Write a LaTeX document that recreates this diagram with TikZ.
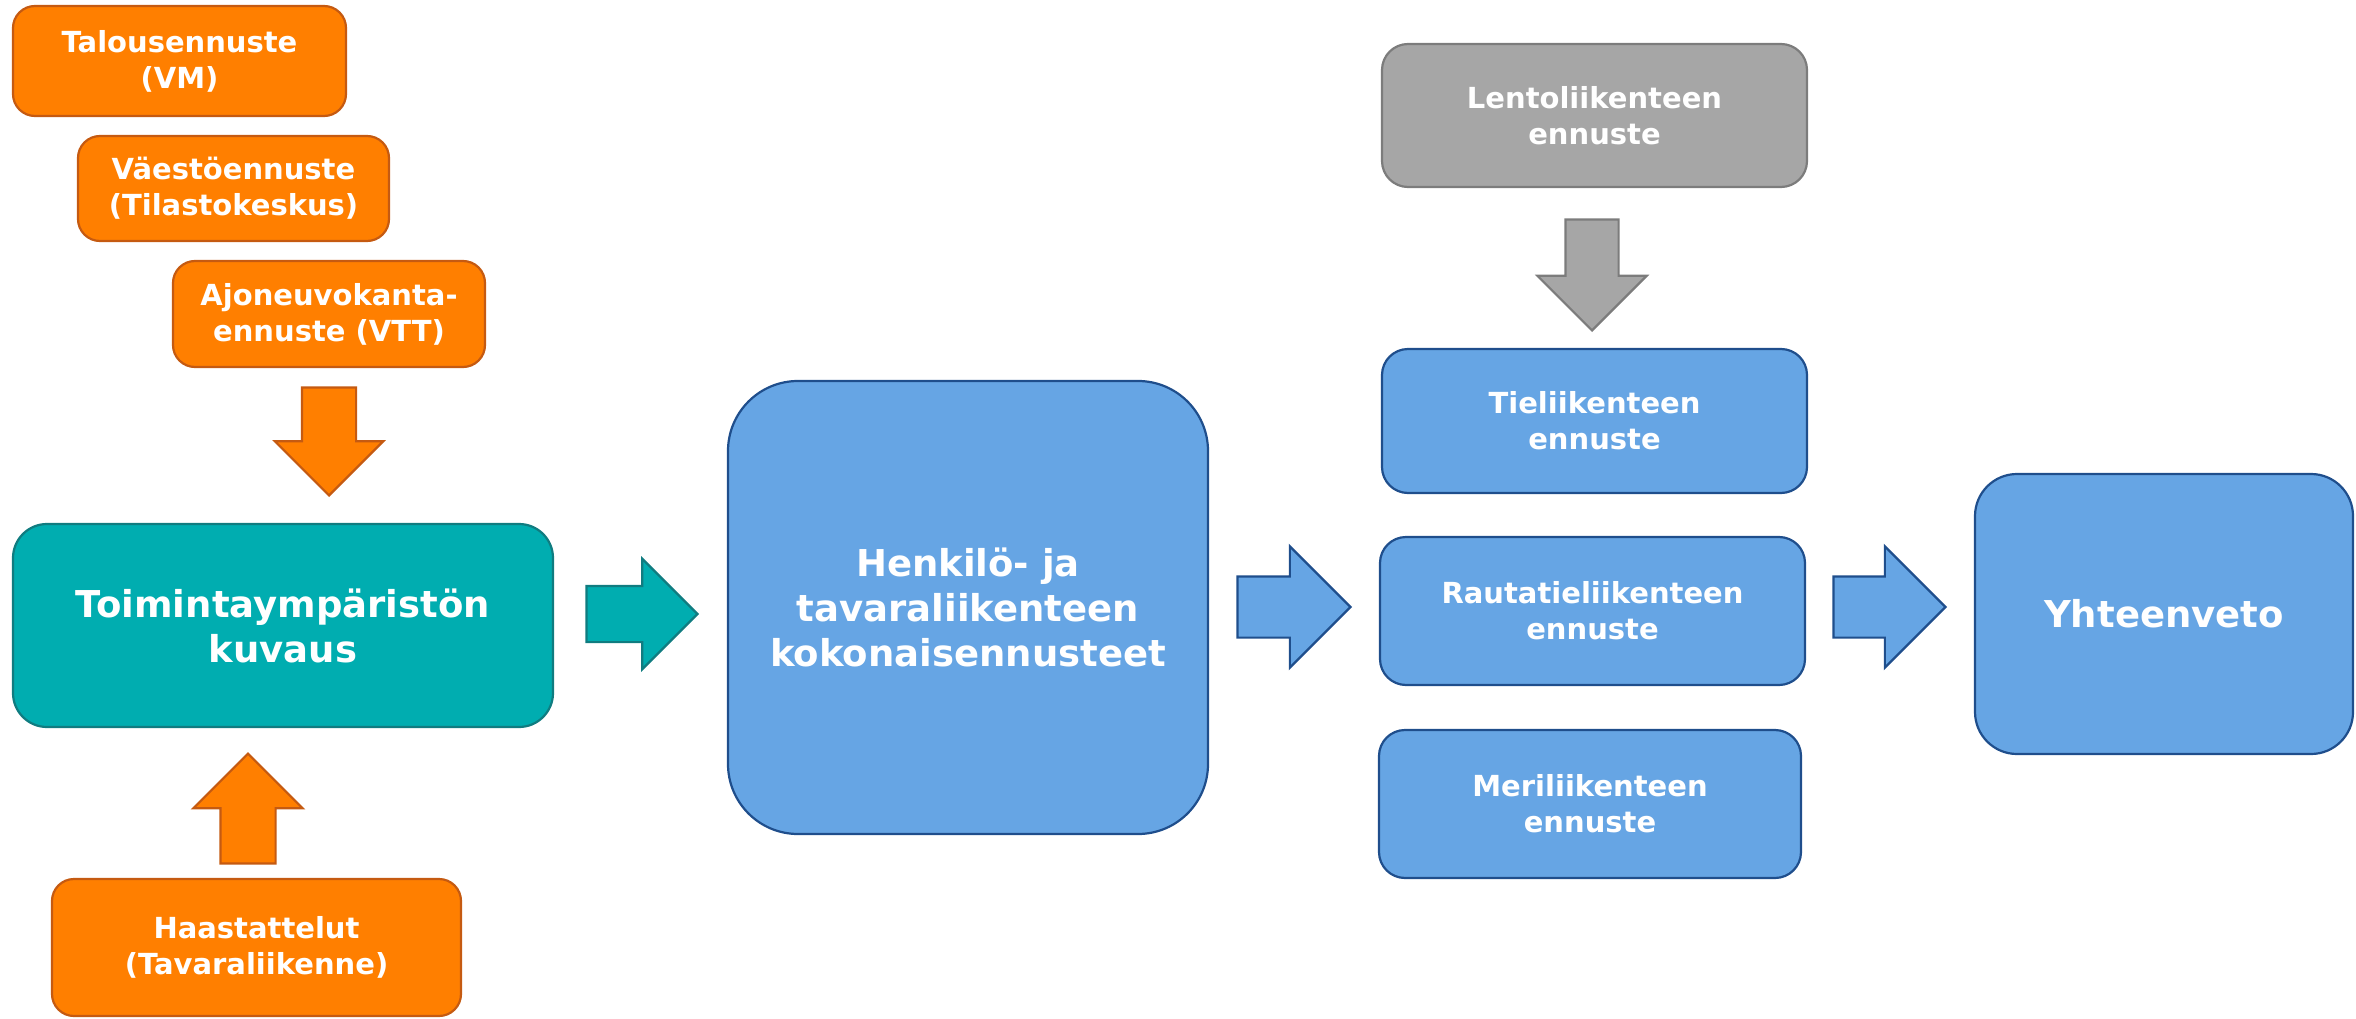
\documentclass[tikz,border=0pt]{standalone}
\usepackage{fontspec}
\setmainfont{DejaVu Sans}
\usetikzlibrary{shapes.arrows}

\definecolor{oranssi}{RGB}{255,127,0}
\definecolor{oranssiR}{RGB}{197,90,17}
\definecolor{turkoosi}{RGB}{0,173,176}
\definecolor{turkoosiR}{RGB}{16,124,128}
\definecolor{sininen}{RGB}{102,165,228}
\definecolor{sininenR}{RGB}{31,78,140}
\definecolor{harmaa}{RGB}{166,166,166}
\definecolor{harmaaR}{RGB}{124,124,124}

\begin{document}
\begin{tikzpicture}[
  x=1pt, y=-1pt,
  every node/.style={text=white, align=center, inner sep=0pt},
  small/.style={font=\fontsize{29}{36}\selectfont\bfseries},
  big/.style={font=\fontsize{37}{45}\selectfont\bfseries},
]
%-------------------------------------------------------------
% Custom colors
\newcommand{\colorisO}{oranssi}
\newcommand{\colorisT}{turkoosi}
\newcommand{\colorisB}{sininen}
\newcommand{\colorisG}{harmaa}

\tikzset{box/.style 2 args={rectangle, rounded corners=#2, line width=2.2pt, fill=#1, draw=#1R, small}}

\tikzset{boxO/.style={box={\colorisO}{22pt}}}
\tikzset{boxT/.style={box={\colorisT}{34pt}}}
\tikzset{boxB/.style={box={\colorisB}{26pt}}}
\tikzset{boxG/.style={box={\colorisG}{26pt}}}

% shaft = 2 x inner ysep, head = shaft + 2 x head extend
\tikzset{blockarrow/.style args={color #1}{single arrow, fill=#1, draw=#1R, line width=2.2pt,
  inner xsep=0pt, inner ysep=26pt, single arrow head extend=27pt,
  minimum height=110pt, anchor=tip}}
\tikzset{arrowO/.style={blockarrow= color \colorisO}}
\tikzset{arrowT/.style={blockarrow= color \colorisT}}
\tikzset{arrowB/.style={blockarrow= color \colorisB, minimum height=113pt, inner ysep=29.5pt, single arrow head extend=30pt}}
\tikzset{arrowG/.style={blockarrow= color \colorisG}}

\useasboundingbox (0,0) rectangle (2356,1019);

%-------------------------------------------------------------
% Input boxes
\node[boxO, minimum width=333pt, minimum height=110pt] (T1) at (179.5,61) {Talousennuste\\(VM)};
\node[boxO, minimum width=311pt, minimum height=105pt] (T2) at (233.5,188.5) {Väestöennuste\\(Tilastokeskus)};
\node[boxO, minimum width=312pt, minimum height=106pt] (T3) at (329,314) {Ajoneuvokanta-\\ennuste (VTT)};
\node[boxO, minimum width=409pt, minimum height=137pt] (H) at (256.5,947.5) {Haastattelut\\(Tavaraliikenne)};
%============================================================
\node[boxT, big, minimum width=540pt, minimum height=203pt] (K) at (283,625.5) {Toimintaympäristön\\kuvaus};
\node[box={\colorisB}{70pt}, big, minimum width=480pt, minimum height=453pt] (E) at (968,607.5) {Henkilö- ja\\tavaraliikenteen\\kokonaisennusteet};
%============================================================
\node[boxG, minimum width=425pt, minimum height=143pt] (L) at (1594.5,115.5) {Lentoliikenteen\\ennuste};
\node[boxB, minimum width=425pt, minimum height=144pt] (Ti) at (1594.5,421) {Tieliikenteen\\ennuste};
\node[boxB, minimum width=425pt, minimum height=148pt] (R) at (1592.5,611) {Rautatieliikenteen\\ennuste};
\node[boxB, minimum width=422pt, minimum height=148pt] (M) at (1590,804) {Meriliikenteen\\ennuste};
%============================================================
\node[box={\colorisB}{42pt}, big, minimum width=378pt, minimum height=280pt] (Y) at (2164,614) {Yhteenveto};

%---------------------------------------------------
% Block arrows
\node[arrowO, rotate=-90, minimum height=108pt] (A1) at (329,497) {};
\node[arrowO, rotate=90, inner ysep=26.5pt] (A2) at (248,752) {};
\node[arrowT, minimum height=111pt, inner ysep=27pt] (A3) at (699,614) {};
\node[arrowG, rotate=-90, minimum height=111pt, inner ysep=25.5pt, single arrow head extend=28pt] (A4) at (1592,332) {};
\node[arrowB] (A5) at (1352,607) {};
\node[arrowB, minimum height=112pt] (A6) at (1947,607) {};

\end{tikzpicture}
\end{document}
